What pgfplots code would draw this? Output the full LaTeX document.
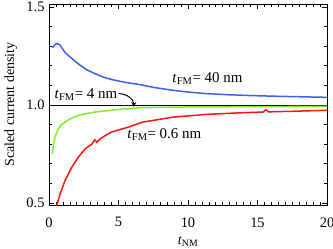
\documentclass[border=0pt]{standalone}
\usepackage{pgfplots}
\pgfplotsset{compat=1.18}
\usepackage{fontspec}
\setmainfont{Liberation Serif}
\usetikzlibrary{arrows.meta}
\definecolor{cblue}{RGB}{60,95,240}
\definecolor{cgreen}{RGB}{125,238,45}
\definecolor{cred}{RGB}{250,20,20}
\begin{document}
\begin{tikzpicture}
\begin{axis}[name=ax, scale only axis, width=278bp, height=201bp,
 xmin=0, xmax=20, ymin=0.49, ymax=1.515,
 xtick={0,5,...,20}, ytick={0.5,1.0,1.5},
 yticklabels={0.5,1.0,1.5},
 minor x tick num=9, minor y tick num=4,
 major tick length=5bp, minor tick length=3bp,
 tick style={black, line width=0.7pt},
 axis line style={line width=0.9pt},
 /pgf/number format/assume math mode=true,
 ticklabel style={font=\fontsize{14.5}{14.5}\selectfont},
 xticklabel style={yshift=-9bp},
 yticklabel style={xshift=-1bp},
 label style={font=\fontsize{14}{14}\selectfont},
 xlabel={\textit{t}\textsubscript{NM}},
 ylabel={Scaled current density},
 xlabel style={at={(axis description cs:0.5,-0.18)}, anchor=center},
 ylabel style={at={(axis description cs:-0.137,0.5)}, anchor=center},
 ]
\addplot[black, line width=0.8pt] coordinates {(0,1) (20,1)};
\addplot[cblue, line width=1.5pt] coordinates {(0.24,1.292)(0.4,1.305)(0.55,1.314)(0.79,1.306)(1.15,1.268)(1.5,1.246)(2.1,1.21)(2.7,1.18)(3.3,1.16)(4.0,1.14)(4.5,1.13)(5.5,1.115)(6.55,1.104)(7.5,1.09)(8.9,1.075)(10,1.066)(11.3,1.058)(13,1.052)(14.5,1.048)(16.1,1.045)(18,1.042)(20,1.039)};
\addplot[cgreen, line width=1.5pt] coordinates {(0.24,0.75)(0.33,0.80)(0.43,0.836)(0.67,0.878)(0.9,0.90)(1.15,0.913)(1.6,0.932)(2.1,0.947)(2.7,0.956)(3.3,0.964)(4.5,0.973)(5.2,0.978)(5.4,0.983)(5.6,0.979)(5.9,0.981)(6.5,0.986)(8,0.988)(10,0.99)(13,0.991)(16,0.992)(20,0.993)};
\addplot[cred, line width=1.5pt] coordinates {(0.5,0.47)(0.55,0.486)(0.79,0.545)(1.15,0.614)(1.63,0.682)(2.1,0.733)(2.6,0.776)(3.07,0.80)(3.3,0.822)(3.45,0.81)(3.67,0.827)(4.0,0.842)(4.5,0.862)(5.7,0.887)(6.7,0.912)(8.9,0.938)(11.3,0.952)(13.7,0.96)(15.4,0.964)(15.6,0.976)(15.8,0.965)(17.5,0.968)(20,0.973)};
\node[font=\fontsize{15}{15}\selectfont, inner sep=0pt] at (axis cs:11.4,1.133) {\textit{t}\textsubscript{FM}= 40 nm};
\node[font=\fontsize{15}{15}\selectfont, inner sep=0pt] (n4) at (axis cs:2.66,1.053) {\textit{t}\textsubscript{FM}= 4 nm};
\node[font=\fontsize{15}{15}\selectfont, inner sep=0pt] at (axis cs:8.3,0.851) {\textit{t}\textsubscript{FM}= 0.6 nm};
\draw[-{Stealth[length=5bp,width=5bp]}, line width=1pt] ([xshift=1bp,yshift=1bp]n4.east) to[out=0,in=90] (axis cs:6.1,0.99);
\end{axis}
\pgfresetboundingbox
\path[use as bounding box] ([shift={(-49bp,-44bp)}]ax.south west) rectangle ([shift={(6bp,4bp)}]ax.north east);
\end{tikzpicture}
\end{document}
